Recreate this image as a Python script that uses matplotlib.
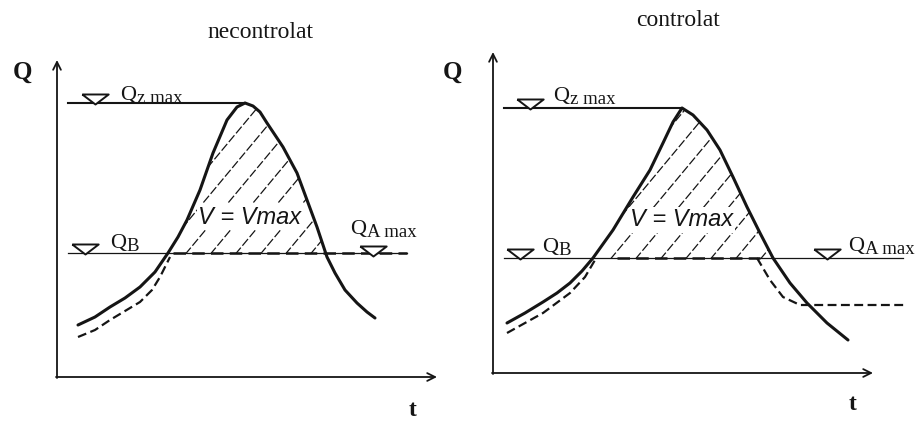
import matplotlib.pyplot as plt
import numpy as np
from matplotlib.patches import Polygon

SERIF = 'Liberation Serif'
INK = '#151515'

# schematic units: t along the time axis, Q along the discharge axis

# left panel - "necontrolat"
left_t = [2.1, 3.8, 5.3, 6.8, 8.3, 9.8, 11.1, 12.1, 13.0, 14.3, 15.6, 17.0, 18.0, 18.8,
          19.6, 20.3, 21.0, 21.8, 22.6, 23.3, 24.0, 25.0, 26.0, 27.0, 27.8, 28.8, 30.0, 31.0, 31.8]
left_q = [5.2, 6.0, 7.0, 7.9, 9.0, 10.5, 12.4, 14.0, 15.7, 18.7, 22.4, 25.7, 27.0, 27.4,
          27.1, 26.5, 25.4, 24.2, 23.0, 21.7, 20.4, 17.7, 15.0, 12.0, 10.4, 8.7, 7.4, 6.5, 5.9]
left_dash_t = [2.1, 3.8, 5.3, 6.8, 8.3, 9.5, 10.3, 10.9, 11.3]
left_dash_q = [4.0, 4.7, 5.7, 6.6, 7.5, 8.7, 10.0, 11.2, 12.0]
left_qz = 27.4
left_qb = 12.4

# right panel - "controlat"
right_t = [1.4, 3.2, 5.0, 6.4, 7.7, 8.9, 10.0, 11.0, 12.0, 14.0, 15.7, 17.0, 18.0, 18.9,
           20.0, 21.4, 22.7, 24.0, 25.4, 26.7, 28.0, 29.7, 31.4, 33.4, 35.5]
right_q = [5.0, 6.0, 7.1, 8.0, 9.0, 10.2, 11.5, 12.9, 14.3, 17.6, 20.3, 23.0, 25.1, 26.5,
           25.8, 24.3, 22.3, 19.6, 16.6, 14.0, 11.5, 9.0, 7.0, 5.0, 3.3]
right_dash_t = [1.4, 3.2, 5.0, 7.7, 9.2, 10.2]
right_dash_q = [4.0, 5.0, 6.0, 8.0, 9.6, 11.3]
right_dash2_t = [26.4, 27.7, 29.0, 30.7, 41.2]
right_dash2_q = [11.5, 9.3, 7.6, 6.8, 6.8]
right_qz = 26.5
right_qb = 11.5

# flattened "water level" triangle
level_marker = [(-1, 0.38), (1, 0.38), (0, -0.38), (-1, 0.38)]


def level(ax, t, q):
    ax.plot([t], [q], marker=level_marker, markersize=19, mfc='white', mec=INK, mew=1.4,
            linestyle='none', zorder=5)


def q_label(ax, t, q, sub, size=16, sub_size=13.5):
    main = ax.text(t, q, 'Q', family=SERIF, fontsize=size, ha='left', va='baseline', color=INK)
    ax.annotate(sub, xy=(1, 0), xycoords=main, xytext=(0.5, -1.5), textcoords='offset points',
                family=SERIF, fontsize=sub_size, ha='left', va='bottom', color=INK)


def draw_panel(ax, title, title_pos, ct, cq, dashes, qz, qb, qz_end, qb_end,
               dash_from, dash_to, y_top, lab):
    ax.set_axis_off()
    # axes arrows
    arrow = dict(arrowstyle='->', lw=1.3, color=INK, shrinkA=0, shrinkB=0, mutation_scale=14)
    ax.annotate('', xy=(38, 0), xytext=(-0.1, 0), arrowprops=arrow)
    ax.annotate('', xy=(0, y_top), xytext=(0, -0.1), arrowprops=arrow)

    # level lines
    ax.plot([1.1, qz_end], [qz, qz], color=INK, lw=1.5)
    ax.plot([1.1, qb_end], [qb, qb], color=INK, lw=0.9)
    ax.plot([dash_from, dash_to], [qb, qb], color=INK, lw=1.8, linestyle=(0, (5, 2.5)))

    # hydrograph
    ax.plot(ct, cq, color=INK, lw=2.2, solid_capstyle='round', zorder=4)
    for dt, dq in dashes:
        ax.plot(dt, dq, color=INK, lw=1.6, linestyle=(0, (4, 2)), zorder=4)

    # hatched volume above Q_B
    ct = np.array(ct)
    cq = np.array(cq)
    keep = cq >= qb - 0.5
    pts = list(zip(ct[keep], cq[keep]))
    pts = pts + [(ct[keep][-1], qb), (ct[keep][0], qb)]
    poly = Polygon(pts, closed=True, fc='none', ec='none')
    ax.add_patch(poly)
    for c in np.arange(ct[keep][0] - 14, ct[keep][-1] + 1, 2.5):
        hl, = ax.plot([c, c + (qz - qb + 2) / 1.2], [qb - 1, qz + 1], color=INK, lw=0.9,
                      linestyle=(0, (7, 2)))
        hl.set_clip_path(poly)

    ax.text(title_pos[0], title_pos[1], title, family=SERIF, fontsize=17, ha='center',
            va='center', color=INK)
    ax.text(lab['Q'][0], lab['Q'][1], 'Q', family=SERIF, fontsize=18, fontweight='bold',
            ha='center', va='center', color=INK)
    ax.text(lab['t'][0], lab['t'][1], 't', family=SERIF, fontsize=17, fontweight='bold',
            ha='center', va='center', color=INK)
    q_label(ax, lab['qz'][0], lab['qz'][1], 'z max')
    q_label(ax, lab['qb'][0], lab['qb'][1], 'B')
    q_label(ax, lab['qa'][0], lab['qa'][1], 'A max')
    ax.text(lab['v'][0], lab['v'][1], 'V = Vmax', family='Liberation Sans', style='italic',
            fontsize=17, ha='center', va='center', color=INK,
            bbox=dict(fc='white', ec='none', pad=1), zorder=6)
    for t, q in lab['marks']:
        level(ax, t, q)


fig = plt.figure(figsize=(9.24, 4.22), dpi=100)

ax1 = fig.add_axes([0, 0, 460 / 924, 1])
ax1.set_xlim(-5.7, 40.3)
ax1.set_ylim(-4.5, 37.7)
draw_panel(ax1, 'necontrolat', (20.3, 34.4), left_t, left_q,
           [(left_dash_t, left_dash_q)], left_qz, left_qb,
           qz_end=18.8, qb_end=35.0, dash_from=11.6, dash_to=35.0, y_top=31.7,
           lab=dict(Q=(-3.5, 30.5), t=(35.6, -3.3), qz=(6.3, 27.7), qb=(5.3, 12.9),
                    qa=(29.3, 14.3), v=(19.3, 16.0),
                    marks=[(3.8, 27.8), (2.8, 12.8), (31.6, 12.6)]))

ax2 = fig.add_axes([460 / 924, 0, 464 / 924, 1])
ax2.set_xlim(-3.3, 43.1)
ax2.set_ylim(-4.9, 37.3)
draw_panel(ax2, 'controlat', (18.5, 35.3), right_t, right_q,
           [(right_dash_t, right_dash_q), (right_dash2_t, right_dash2_q)], right_qz, right_qb,
           qz_end=18.7, qb_end=41.0, dash_from=12.4, dash_to=26.7, y_top=32.1,
           lab=dict(Q=(-4.0, 30.1), t=(36.0, -3.2), qz=(6.0, 27.2), qb=(4.9, 12.1),
                    qa=(35.5, 12.2), v=(18.9, 15.3),
                    marks=[(3.7, 26.9), (2.7, 11.9), (33.4, 11.9)]))

fig.savefig('out.png', dpi=100)
